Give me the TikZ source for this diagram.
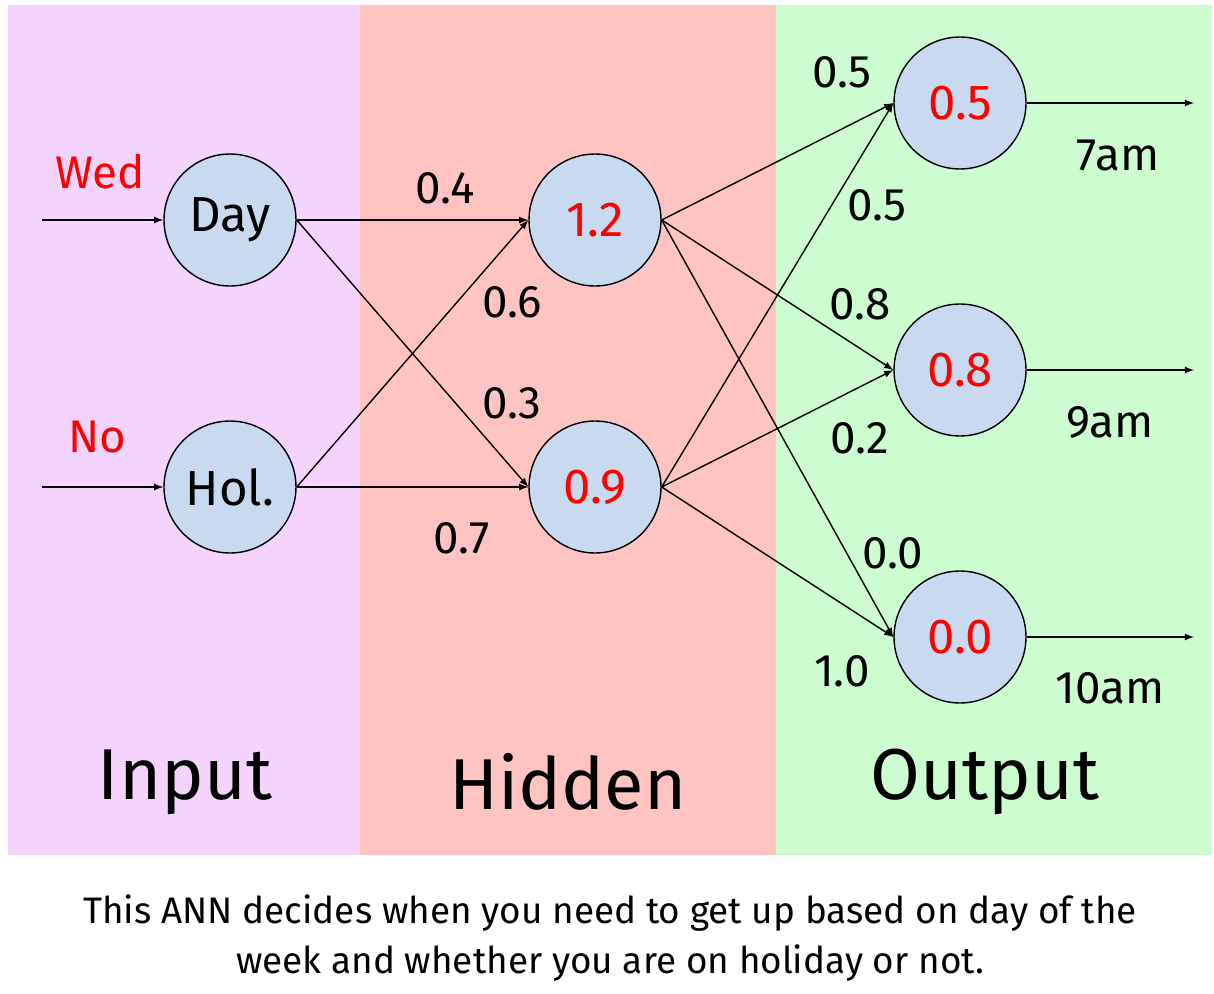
\documentclass[tikz,border=0pt]{standalone}
\usepackage{fontspec}
\setmainfont{Fira Sans}
\usetikzlibrary{arrows, positioning}
\definecolor{inbg}{HTML}{F4D4FC}
\definecolor{hidbg}{HTML}{FFC4C2}
\definecolor{outbg}{HTML}{CCFCD0}
\definecolor{neuron}{HTML}{C9DAF0}
\begin{document}
\begin{tikzpicture}[x=0.02cm,y=-0.02cm,>=latex, line width=0.8pt]
        \tikzstyle{neuron} = [draw, circle, fill=neuron, minimum size=2.64cm, inner sep=0pt, font=\fontsize{28}{32}\selectfont]
        \tikzstyle{weight} = [font=\fontsize{26}{30}\selectfont]
        \tikzstyle{layer} = [font=\fontsize{41}{48}\selectfont]
        \useasboundingbox (0,0) rectangle (1214,994);
        %Backgrounds
        \fill[inbg] (8,5) rectangle (360,855);
        \fill[hidbg] (360,5) rectangle (776,855);
        \fill[outbg] (776,5) rectangle (1212,855);
        %Creating Neurons
        \node [neuron] at (230,220) (day) {Day};
        \node [neuron] at (230,487) (hol) {Hol.};
        \node [neuron, text=red] at (595,220) (h1) {1.2};
        \node [neuron, text=red] at (595,487) (h2) {0.9};
        \node [neuron, text=red] at (960,103) (o1) {0.5};
        \node [neuron, text=red] at (960,370) (o2) {0.8};
        \node [neuron, text=red] at (960,637) (o3) {0.0};
        \coordinate (in_day) at (42,220);
        \coordinate (in_hol) at (42,487);
        \coordinate (out1) at (1194,103);
        \coordinate (out2) at (1194,370);
        \coordinate (out3) at (1194,637);
        %Labels
        \node [weight, text=red] at (100,172) (wed) {Wed};
        \node [weight, text=red] at (97,437) (no) {No};
        \node [weight] at (1118,155) (l7) {7am};
        \node [weight] at (1110,422) (l9) {9am};
        \node [weight] at (1110,688) (l10) {10am};
        \node [weight] at (445,188) (w1) {0.4};
        \node [weight] at (512,302) (w2) {0.6};
        \node [weight] at (512,403) (w3) {0.3};
        \node [weight] at (462,538) (w4) {0.7};
        \node [weight] at (842,72) (w5) {0.5};
        \node [weight] at (877,205) (w6) {0.5};
        \node [weight] at (860,304) (w7) {0.8};
        \node [weight] at (860,438) (w8) {0.2};
        \node [weight] at (893,553) (w9) {0.0};
        \node [weight] at (842,671) (w10) {1.0};
        \node [layer] at (185,782) (input) {Input};
        \node [layer] at (568,782) (hidden) {Hidden};
        \node [layer] at (985,782) (output) {Output};
        \node [align=center, font=\fontsize{21}{28}\selectfont] at (610,938) (caption) {This ANN decides when you need to get up based on day of the\\week and whether you are on holiday or not.};

        %Connecting Neurons
        \begin{scope}[line width=0.8pt]
            \draw[->] (in_day) -- (day.west);
            \draw[->] (in_hol) -- (hol.west);
            \draw[->] (day.east) -- (h1.west);
            \draw[->] (day.east) -- (h2.west);
            \draw[->] (hol.east) -- (h1.west);
            \draw[->] (hol.east) -- (h2.west);
            \draw[->] (h1.east) -- (o1.west);
            \draw[->] (h1.east) -- (o2.west);
            \draw[->] (h1.east) -- (o3.west);
            \draw[->] (h2.east) -- (o1.west);
            \draw[->] (h2.east) -- (o2.west);
            \draw[->] (h2.east) -- (o3.west);
            \draw[->] (o1.east) -- (out1);
            \draw[->] (o2.east) -- (out2);
            \draw[->] (o3.east) -- (out3);
        \end{scope}
    \end{tikzpicture}
\end{document}
